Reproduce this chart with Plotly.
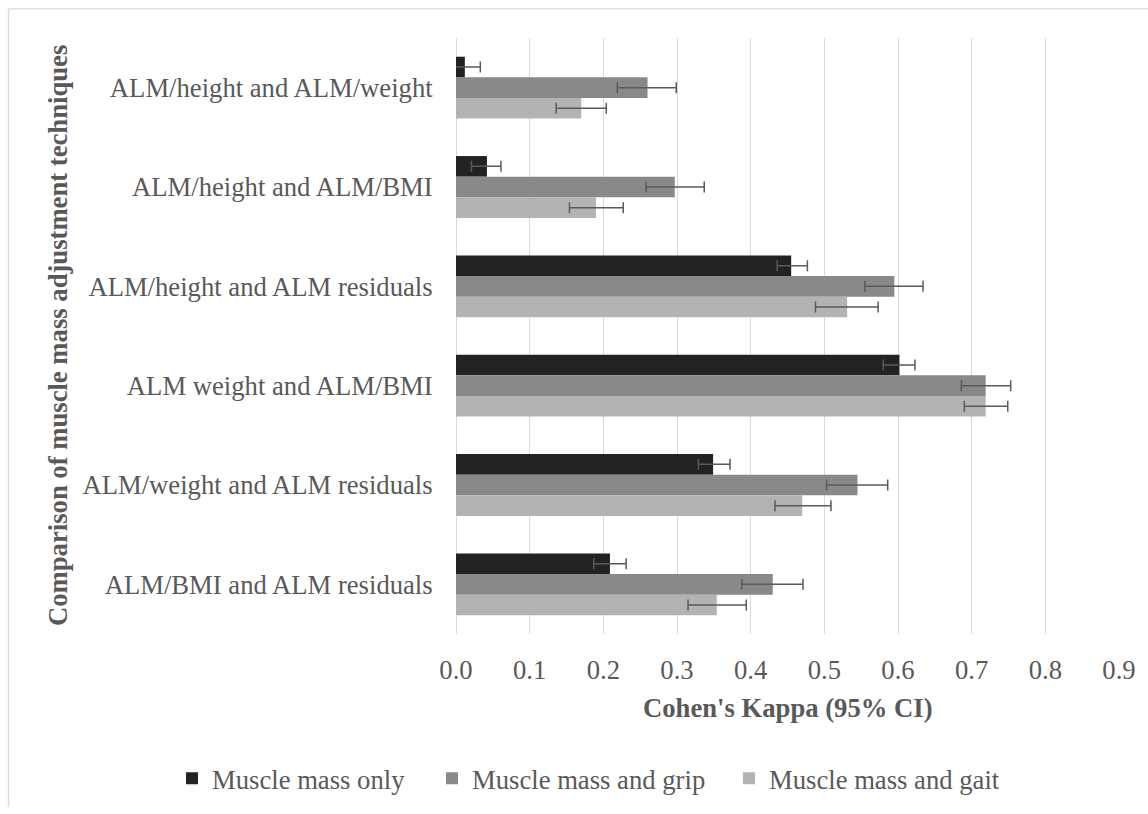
import plotly.graph_objects as go

categories = [
    "ALM/height and ALM/weight",
    "ALM/height and ALM/BMI",
    "ALM/height and ALM residuals",
    "ALM weight and ALM/BMI",
    "ALM/weight and ALM residuals",
    "ALM/BMI and ALM residuals",
]
series_names = ["Muscle mass only", "Muscle mass and grip", "Muscle mass and gait"]

mass_only = [0.012, 0.042, 0.455, 0.602, 0.349, 0.209]
mass_only_lo = [-0.009, 0.021, 0.436, 0.580, 0.329, 0.187]
mass_only_hi = [0.033, 0.061, 0.477, 0.623, 0.372, 0.231]

grip = [0.260, 0.297, 0.595, 0.719, 0.545, 0.430]
grip_lo = [0.219, 0.258, 0.555, 0.686, 0.503, 0.388]
grip_hi = [0.299, 0.337, 0.634, 0.753, 0.586, 0.471]

gait = [0.170, 0.190, 0.531, 0.719, 0.470, 0.354]
gait_lo = [0.136, 0.154, 0.488, 0.690, 0.433, 0.315]
gait_hi = [0.204, 0.227, 0.573, 0.749, 0.509, 0.394]

x_ticks = [0.0, 0.1, 0.2, 0.3, 0.4, 0.5, 0.6, 0.7, 0.8, 0.9]
x_tick_labels = ["0.0", "0.1", "0.2", "0.3", "0.4", "0.5", "0.6", "0.7", "0.8", "0.9"]

colors = ["#222222", "#898989", "#b3b3b3"]
legend_widths = [215, 252, 250]
FONT = "'Liberation Serif', 'Times New Roman', Times, 'DejaVu Serif', serif"
TXT = "#595959"
FS = 26.67

W, H = 1148, 814
L, R, T, B = 456, 1119, 38, 641


def px_x(p):
    return (p - L) / (R - L)


def px_y(p):
    return (B - p) / (B - T)


fig = go.Figure()
for name, vals, lo, hi, col, lw in zip(
    series_names,
    [mass_only, grip, gait],
    [mass_only_lo, grip_lo, gait_lo],
    [mass_only_hi, grip_hi, gait_hi],
    colors,
    legend_widths,
):
    fig.add_trace(
        go.Bar(
            name=name,
            y=categories,
            x=vals,
            orientation="h",
            marker=dict(color=col, line=dict(width=0)),
            legendwidth=lw,
            error_x=dict(
                type="data",
                symmetric=False,
                array=[h - v for h, v in zip(hi, vals)],
                arrayminus=[v - l for v, l in zip(vals, lo)],
                color="#5a5a5a",
                thickness=1.5,
                width=5.5,
            ),
        )
    )

fig.update_layout(
    width=W,
    height=H,
    margin=dict(l=L, r=W - R, t=T, b=H - B, pad=0),
    paper_bgcolor="white",
    plot_bgcolor="white",
    barmode="group",
    bargap=0.377,
    bargroupgap=0,
    font=dict(family=FONT, size=FS, color=TXT),
    showlegend=True,
    legend=dict(
        orientation="h",
        x=px_x(172),
        xanchor="left",
        y=px_y(787),
        yanchor="middle",
        font=dict(family=FONT, size=FS, color=TXT),
        bgcolor="rgba(0,0,0,0)",
    ),
    xaxis=dict(
        range=[0, 0.9],
        tickvals=x_ticks,
        ticktext=x_tick_labels,
        showgrid=True,
        gridcolor="#d9d9d9",
        gridwidth=1,
        zeroline=True,
        zerolinecolor="#d9d9d9",
        zerolinewidth=1,
        showline=False,
        ticks="outside",
        ticklen=12,
        tickcolor="rgba(0,0,0,0)",
        tickfont=dict(family=FONT, size=FS, color=TXT),
        fixedrange=True,
    ),
    yaxis=dict(
        autorange="reversed",
        showgrid=False,
        zeroline=False,
        showline=False,
        ticks="outside",
        ticklen=17,
        tickcolor="rgba(0,0,0,0)",
        tickfont=dict(family=FONT, size=FS, color=TXT),
        fixedrange=True,
    ),
    annotations=[
        dict(
            text="<b>Cohen's Kappa (95% CI)</b>",
            xref="paper", yref="paper",
            x=0.5, y=px_y(716),
            xanchor="center", yanchor="middle",
            showarrow=False,
            font=dict(family=FONT, size=FS, color=TXT),
        ),
        dict(
            text="<b>Comparison of muscle mass adjustment techniques</b>",
            xref="paper", yref="paper",
            x=px_x(58), y=0.5,
            xanchor="center", yanchor="middle",
            textangle=-90,
            showarrow=False,
            font=dict(family=FONT, size=FS, color=TXT),
        ),
    ],
    shapes=[
        dict(type="line", xref="paper", yref="paper",
             x0=px_x(8.5), x1=px_x(1150), y0=px_y(8.5), y1=px_y(8.5),
             line=dict(color="#d9d9d9", width=1.3)),
        dict(type="line", xref="paper", yref="paper",
             x0=px_x(8.5), x1=px_x(8.5), y0=px_y(8.5), y1=px_y(816),
             line=dict(color="#d9d9d9", width=1.3)),
    ],
)

fig.write_html("out.html")
